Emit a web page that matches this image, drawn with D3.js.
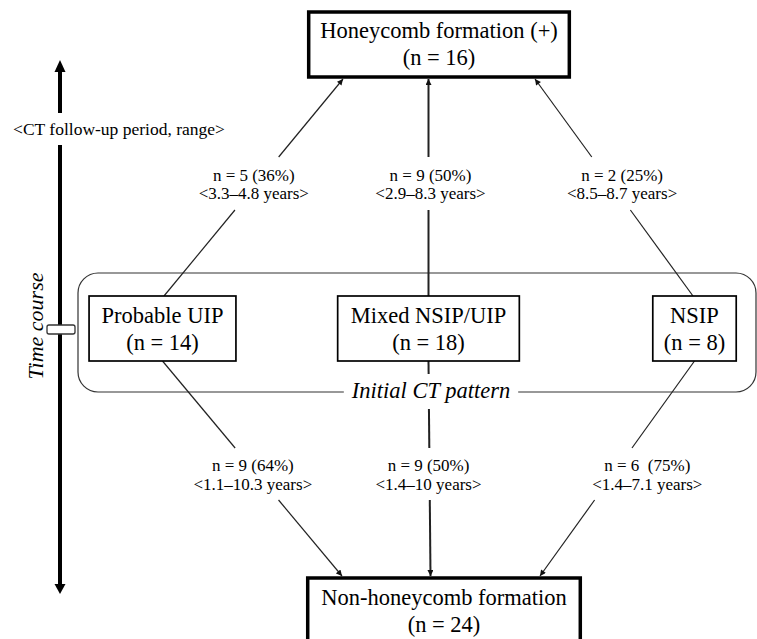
<!DOCTYPE html>
<html><head><meta charset="utf-8">
<script src="https://cdn.jsdelivr.net/npm/d3@7"></script>
<style>body{margin:0;background:#fff} svg{display:block}</style>
</head><body>
<svg id="c" width="757" height="639"></svg>
<script>
// ---- data ----
const patterns = ["Probable UIP", "Mixed NSIP/UIP", "NSIP"];
const patternN = [14, 18, 8];
const outcomes = ["Honeycomb formation (+)", "Non-honeycomb formation"];
const outcomeN = [16, 24];
const honeyN = [5, 9, 2];
const honeyPct = [36, 50, 25];
const honeyRange = ["3.3–4.8", "2.9–8.3", "8.5–8.7"];
const nonN = [9, 9, 6];
const nonPct = [64, 50, 75];
const nonRange = ["1.1–10.3", "1.4–10", "1.4–7.1"];
const axisTitle = "Time course";
const periodNote = "<CT follow-up period, range>";
const groupTitle = "Initial CT pattern";

// ---- layout ----
const SERIF = "'Liberation Serif','Times New Roman',serif";
const BOXFONT = 22.5, LABFONT = 17;
const svg = d3.select("#c");
const x = d3.scalePoint().domain(patterns).range([162.5, 694.5]);
const rows = d3.scalePoint().domain(["top", "pattern", "bottom"]).range([12, 578]);
const patY = 296, boxH = 65;
const patPad = [25, 26, 22];
const topCx = 439, botCx = 444;
const armOffset = [-96, 0, 96];
const topLabelDx = [-3, 2, 11], botLabelDx = [-4, -1, 34];
const topGap = [157, 210], botGap = [448, 500];

const defs = svg.append("defs");
defs.append("marker").attr("id", "ah").attr("viewBox", "0 0 10 10")
  .attr("refX", 10).attr("refY", 5).attr("markerWidth", 7).attr("markerHeight", 6)
  .attr("markerUnits", "userSpaceOnUse").attr("orient", "auto")
  .append("path").attr("d", "M0,0L10,5L0,10z").attr("fill", "#111");

function measure(txt, size, style) {
  const t = svg.append("text").attr("font-family", SERIF).attr("font-size", size)
    .attr("font-style", style || "normal").text(txt);
  const w = t.node().getComputedTextLength();
  t.remove();
  return w;
}

// ---- time course arrow ----
const ax = 60;
const g0 = svg.append("g");
g0.append("line").attr("x1", ax).attr("x2", ax).attr("y1", 70).attr("y2", 113)
  .attr("stroke", "#000").attr("stroke-width", 4);
g0.append("line").attr("x1", ax).attr("x2", ax).attr("y1", 145).attr("y2", 586)
  .attr("stroke", "#000").attr("stroke-width", 4);
g0.append("path").attr("d", `M${ax},60L${ax + 5.5},72L${ax - 5.5},72Z`).attr("fill", "#000");
g0.append("path").attr("d", `M${ax},594L${ax + 5.5},584L${ax - 5.5},584Z`).attr("fill", "#000");
g0.append("rect").attr("x", 47).attr("y", 325).attr("width", 28).attr("height", 9).attr("rx", 2)
  .attr("fill", "#fff").attr("stroke", "#333").attr("stroke-width", 1.3);
g0.append("text").attr("x", 119).attr("y", 135).attr("text-anchor", "middle")
  .attr("font-family", SERIF).attr("font-size", 17.5).text(periodNote);
g0.append("text").attr("transform", "translate(43,326) rotate(-90)").attr("text-anchor", "middle")
  .attr("font-family", SERIF).attr("font-size", 22).attr("font-style", "italic").text(axisTitle);

// ---- initial CT pattern group ----
svg.append("rect").attr("x", 78).attr("y", 273).attr("width", 678).attr("height", 119).attr("rx", 20)
  .attr("fill", "none").attr("stroke", "#333").attr("stroke-width", 1.2);

// ---- edges ----
const topBottom = rows("top") + boxH + 2;
const botTop = rows("bottom") - 2;
function seg(g, a, b, y1, y2, w) {
  const at = y => { const t = (y - a[1]) / (b[1] - a[1]); return [a[0] + t * (b[0] - a[0]), y]; };
  const p1 = at(y1), p2 = at(y2);
  g.append("line").attr("x1", a[0]).attr("y1", a[1]).attr("x2", p1[0]).attr("y2", p1[1])
    .attr("stroke", "#222").attr("stroke-width", w);
  g.append("line").attr("x1", p2[0]).attr("y1", p2[1]).attr("x2", b[0]).attr("y2", b[1])
    .attr("stroke", "#222").attr("stroke-width", w).attr("marker-end", "url(#ah)");
  return at;
}
const ge = svg.append("g");
patterns.forEach((p, i) => {
  const w = i === 1 ? 2 : 1.2;
  const srcT = [x(p) + (i === 0 ? 1.5 : i === 2 ? -1.5 : 0), patY];
  const dstT = [i === 1 ? x(p) : topCx + armOffset[i], topBottom];
  const atT = seg(ge, srcT, dstT, topGap[1], topGap[0], w);
  const ly = (topGap[0] + topGap[1]) / 2;
  const lx = atT(ly)[0] + topLabelDx[i];
  const tt = ge.append("text").attr("font-family", SERIF).attr("font-size", LABFONT)
    .attr("text-anchor", "middle").style("white-space", "pre");
  tt.append("tspan").attr("x", lx).attr("y", 181).text(`n = ${honeyN[i]} (${honeyPct[i]}%)`);
  tt.append("tspan").attr("x", lx).attr("y", 199).text(`<${honeyRange[i]} years>`);

  const srcB = [x(p), patY + boxH];
  const dstB = [i === 1 ? x(p) + 2 : botCx + (i === 0 ? -102 : 96), botTop];
  const atB = seg(ge, srcB, dstB, botGap[0], botGap[1], w);
  const ly2 = (botGap[0] + botGap[1]) / 2;
  const lx2 = atB(ly2)[0] + botLabelDx[i];
  const tb = ge.append("text").attr("font-family", SERIF).attr("font-size", LABFONT)
    .attr("text-anchor", "middle").style("white-space", "pre");
  tb.append("tspan").attr("x", lx2).attr("y", 471).text(`n = ${nonN[i]}${i === 2 ? "  " : " "}(${nonPct[i]}%)`);
  tb.append("tspan").attr("x", lx2).attr("y", 490).text(`<${nonRange[i]} years>`);
});

// group title with gap in the frame
const gtW = measure(groupTitle, BOXFONT, "italic");
svg.append("rect").attr("x", 431 - gtW / 2 - 8).attr("y", 374).attr("width", gtW + 16).attr("height", 35).attr("fill", "#fff");
svg.append("text").attr("x", 431).attr("y", 398).attr("text-anchor", "middle")
  .attr("font-family", SERIF).attr("font-size", BOXFONT).attr("font-style", "italic").text(groupTitle);

// ---- pattern boxes ----
const gp = svg.append("g");
patterns.forEach((p, i) => {
  const w = Math.max(measure(p, BOXFONT), measure(`(n = ${patternN[i]})`, BOXFONT)) + patPad[i];
  gp.append("rect").attr("x", x(p) - w / 2).attr("y", patY).attr("width", w).attr("height", boxH)
    .attr("fill", "#fff").attr("stroke", "#000").attr("stroke-width", 1.7);
  const t = gp.append("text").attr("font-family", SERIF).attr("font-size", BOXFONT).attr("text-anchor", "middle");
  t.append("tspan").attr("x", x(p)).attr("y", patY + 27).text(p);
  t.append("tspan").attr("x", x(p)).attr("y", patY + 54).text(`(n = ${patternN[i]})`);
});

// ---- outcome boxes ----
const go = svg.append("g");
[[topCx, rows("top"), boxH, 23, 26], [botCx, rows("bottom"), 90, 27, 27]].forEach((b, k) => {
  const [cx, y, h, pad, base] = b;
  const w = measure(outcomes[k], BOXFONT) + pad;
  go.append("rect").attr("x", cx - w / 2).attr("y", y).attr("width", w).attr("height", h)
    .attr("fill", "#fff").attr("stroke", "#000").attr("stroke-width", 3.5);
  const t = go.append("text").attr("font-family", SERIF).attr("font-size", BOXFONT).attr("text-anchor", "middle");
  t.append("tspan").attr("x", cx).attr("y", y + base).text(outcomes[k]);
  t.append("tspan").attr("x", cx).attr("y", y + base + 27).text(`(n = ${outcomeN[k]})`);
});
</script>
</body></html>
